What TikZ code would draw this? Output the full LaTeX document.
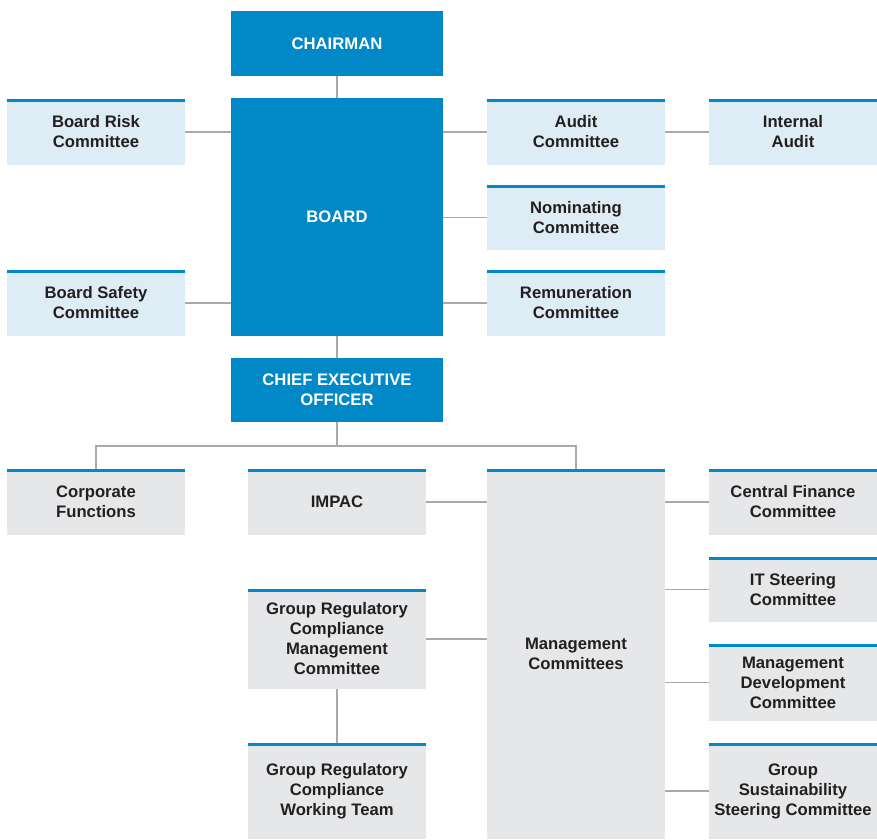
\documentclass[tikz,border=0pt]{standalone}
\usepackage{fontspec}
\setmainfont{Liberation Sans}
\usepackage{tikz}

\definecolor{boardblue}{HTML}{0088C7}
\definecolor{paleblue}{HTML}{DEECF6}
\definecolor{palegrey}{HTML}{E6E7E8}
\definecolor{linkgrey}{HTML}{A7A9AC}
\definecolor{inkdark}{HTML}{231F20}

\tikzset{
	chief/.style={fill=boardblue, text=white, minimum width=212*0.75pt, inner sep=0pt, align=center, font=\bfseries\fontsize{12.5}{15}\selectfont},
	cttee/.style={fill=paleblue, text=inkdark, minimum width=178*0.75pt, inner sep=0pt, align=center, font=\bfseries\fontsize{12.5}{15}\selectfont},
	mgmt/.style={cttee, fill=palegrey},
	link/.style={draw=linkgrey, line width=1.4pt},
	topline/.style={draw=boardblue, line width=2.2pt}
}

\begin{document}
\begin{tikzpicture}[x=0.75pt, y=-0.75pt]
		\useasboundingbox (0, 0) rectangle (877, 839);
		% board level
		\node[chief, minimum height=65*0.75pt] (chair) at (337, 43.5) {CHAIRMAN};
		\node[chief, minimum height=238*0.75pt] (board) at (337, 217) {BOARD};
		\node[chief, minimum height=64*0.75pt] (ceo) at (337, 390) {CHIEF EXECUTIVE\\OFFICER};
		\node[cttee, minimum height=66*0.75pt] (risk) at (96, 132) {Board Risk\\Committee};
		\node[cttee, minimum height=66*0.75pt] (safety) at (96, 303) {Board Safety\\Committee};
		\node[cttee, minimum height=66*0.75pt] (audit) at (576, 132) {Audit\\Committee};
		\node[cttee, minimum height=66*0.75pt, minimum width=168*0.75pt] (internal) at (793, 132) {Internal\\Audit};
		\node[cttee, minimum height=65*0.75pt] (nomin) at (576, 217.5) {Nominating\\Committee};
		\node[cttee, minimum height=66*0.75pt] (remun) at (576, 303) {Remuneration\\Committee};
		% management level
		\node[mgmt, minimum height=66*0.75pt] (corp) at (96, 502) {Corporate\\Functions};
		\node[mgmt, minimum height=66*0.75pt] (impac) at (337, 502) {IMPAC};
		\node[mgmt, minimum height=370*0.75pt] (mgmtc) at (576, 654) {Management\\Committees};
		\node[mgmt, minimum height=100*0.75pt] (grcmc) at (337, 639) {Group Regulatory\\Compliance\\Management\\Committee};
		\node[mgmt, minimum height=96*0.75pt] (grcwt) at (337, 791) {Group Regulatory\\Compliance\\Working Team};
		\node[mgmt, minimum height=66*0.75pt, minimum width=168*0.75pt] (cfc) at (793, 502) {Central Finance\\Committee};
		\node[mgmt, minimum height=65*0.75pt, minimum width=168*0.75pt] (itsc) at (793, 589.5) {IT Steering\\Committee};
		\node[mgmt, minimum height=77*0.75pt, minimum width=168*0.75pt] (mdc) at (793, 682.5) {Management\\Development\\Committee};
		\node[mgmt, minimum height=96*0.75pt, minimum width=168*0.75pt] (gssc) at (793, 791) {Group\\Sustainability\\Steering Committee};
		\coordinate (split) at (337, 446);

		\foreach \n in {risk, safety, audit, internal, nomin, remun, corp, impac, mgmtc, grcmc, grcwt, cfc, itsc, mdc, gssc}
			\draw[topline] ([yshift=-1.1pt]\n.north west) -- ([yshift=-1.1pt]\n.north east);

		\draw[link] (chair) -- (board);
		\draw[link] (board) -- (ceo);
		\draw[link] (risk.east) -- (risk.east -| board.west);
		\draw[link] (safety.east) -- (safety.east -| board.west);
		\draw[link] (audit.west) -- (audit.west -| board.east);
		\draw[link] (nomin.west) -- (nomin.west -| board.east);
		\draw[link] (remun.west) -- (remun.west -| board.east);
		\draw[link] (audit) -- (internal);
		\draw[link] (ceo) -- (split);
		\draw[link] (corp.north) |- (split) -| (mgmtc.north);
		\draw[link] (impac.east) -- (impac.east -| mgmtc.west);
		\draw[link] (grcmc.east) -- (grcmc.east -| mgmtc.west);
		\draw[link] (grcmc) -- (grcwt);
		\foreach \n in {cfc, itsc, mdc, gssc}
			\draw[link] (\n.west) -- (\n.west -| mgmtc.east);
	\end{tikzpicture}
\end{document}
